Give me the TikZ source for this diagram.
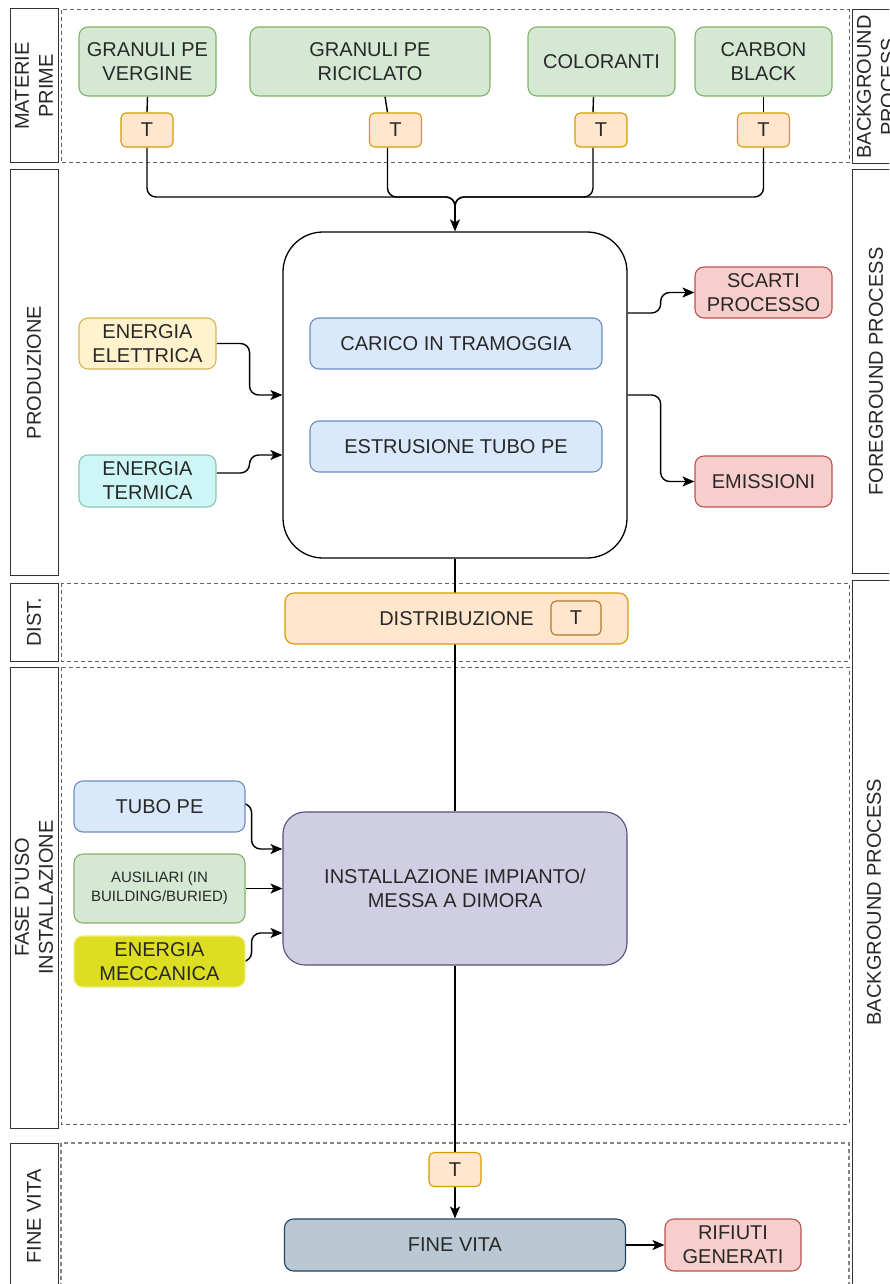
\documentclass[tikz,border=0pt]{standalone}
\usepackage{fontspec}
\setmainfont{Liberation Sans}
\usetikzlibrary{arrows.meta}
\pgfdeclarelayer{bg}
\pgfsetlayers{bg,main}
\definecolor{txt}{RGB}{40,40,40}
\definecolor{gfill}{HTML}{D5E8D4}\definecolor{gdraw}{HTML}{82B366}
\definecolor{ofill}{HTML}{FFE6CC}\definecolor{odraw}{HTML}{D79B00}
\definecolor{yfill}{HTML}{FFF2CC}\definecolor{ydraw}{HTML}{D6B656}
\definecolor{bfill}{HTML}{DAE8FC}\definecolor{bdraw}{HTML}{6C8EBF}
\definecolor{rfill}{HTML}{F8CECC}\definecolor{rdraw}{HTML}{B85450}
\definecolor{pfill}{HTML}{D0CEE2}\definecolor{pdraw}{HTML}{56517E}
\definecolor{sfill}{HTML}{BAC8D3}\definecolor{sdraw}{HTML}{23445D}
\definecolor{cfill}{RGB}{206,246,246}\definecolor{cdraw}{RGB}{140,200,170}
\definecolor{mfill}{RGB}{221,221,34}\definecolor{mdraw}{RGB}{238,238,120}
\definecolor{tdraw}{RGB}{176,122,40}
\definecolor{lanecol}{RGB}{100,100,100}
\newcommand\fsz{\fontsize{20}{24}\selectfont}
\newcommand\fsm{\fontsize{15}{19}\selectfont}
\begin{document}
\begin{tikzpicture}[x=1pt,y=-1pt,
  box/.style={draw, rounded corners=9pt, align=center, inner sep=0pt, line width=1.1pt, text=txt, font=\fsz},
  green/.style={box, fill=gfill, draw=gdraw},
  tbox/.style={box, fill=ofill, draw=odraw, rounded corners=5pt, minimum width=52pt, minimum height=34pt},
  blue/.style={box, fill=bfill, draw=bdraw},
  red/.style={box, fill=rfill, draw=rdraw},
  lbl/.style={draw=black!80, line width=1pt, align=center, inner sep=0pt, font=\fsz, text=txt, rotate=90},
  lbltext/.style={align=center, inner sep=0pt, font=\fsz, text=txt, rotate=90},
  lane/.style={draw=lanecol, dash pattern=on 4pt off 3pt, line width=1pt},
  conn/.style={line width=1.4pt, draw=black, rounded corners=9pt},
  arr/.style={conn, -{Stealth[length=12pt,width=10pt,inset=3pt]}}]
\useasboundingbox (0,0) rectangle (889,1284);
\clip (0,0) rectangle (889,1284);

% left lane labels
\node[lbl, minimum width=154pt, minimum height=48pt] (l1) at (34,86) {MATERIE\\PRIME};
\node[lbl, minimum width=405pt, minimum height=48pt] (l2) at (34,372.5) {PRODUZIONE};
\node[lbl, minimum width=78pt, minimum height=48pt] (l3) at (34,622) {DIST.};
\node[lbl, minimum width=461pt, minimum height=48pt] (l4) at (34,897.5) {FASE D'USO\\INSTALLAZIONE};
\node[lbl, minimum width=147pt, minimum height=48pt] (l5) at (34,1216.5) {FINE VITA};
% right labels
\node[lbl, minimum width=154pt, minimum height=48pt] (r1) at (876,87) {BACKGROUND\\PROCESS};
\node[lbl, minimum width=403pt, minimum height=48pt] (r2) at (876,371.5) {FOREGROUND PROCESS};
\node[lbl, minimum width=715pt, minimum height=48pt] (r3) at (876,937.5) {};
\node[lbltext] (r3t) at (874,902) {BACKGROUND PROCESS};

% raw materials
\node[green, minimum width=137pt, minimum height=69pt] (g1) at (147.5,61.5) {GRANULI PE\\VERGINE};
\node[green, minimum width=240pt, minimum height=69pt] (g2) at (370,61.5) {GRANULI PE\\RICICLATO};
\node[green, minimum width=147pt, minimum height=69pt] (g3) at (601.5,61.5) {COLORANTI};
\node[green, minimum width=137pt, minimum height=69pt] (g4) at (763.5,61.5) {CARBON\\BLACK};
\node[tbox] (t1) at (147,130) {T};
\node[tbox] (t2) at (395.5,130) {T};
\node[tbox] (t3) at (601,130) {T};
\node[tbox] (t4) at (763.5,130) {T};

% production
\node[draw=black, line width=1.3pt, fill=white, rounded corners=40pt, minimum width=344pt, minimum height=326pt, inner sep=0pt] (main) at (455,395) {};
\node[blue, minimum width=292pt, minimum height=51pt] (c1) at (456,343.5) {CARICO IN TRAMOGGIA};
\node[blue, minimum width=292pt, minimum height=51pt] (c2) at (456,446.5) {ESTRUSIONE TUBO PE};
\node[box, fill=yfill, draw=ydraw, minimum width=137pt, minimum height=51pt] (ee) at (147.5,343.5) {ENERGIA\\ELETTRICA};
\node[box, fill=cfill, draw=cdraw, minimum width=137pt, minimum height=52pt] (et) at (147.5,481) {ENERGIA\\TERMICA};
\node[red, minimum width=137pt, minimum height=51pt] (sc) at (763.5,292.5) {SCARTI\\PROCESSO};
\node[red, minimum width=137pt, minimum height=51pt] (em) at (763.5,481.5) {EMISSIONI};

% distribution
\node[box, fill=ofill, draw=odraw, minimum width=343pt, minimum height=51pt] (dist) at (456.5,618.5) {DISTRIBUZIONE};
\node[box, fill=ofill, draw=tdraw, rounded corners=5pt, minimum width=50pt, minimum height=34pt] (dt) at (576,618) {T};

% installation
\node[box, fill=pfill, draw=pdraw, rounded corners=22pt, minimum width=344pt, minimum height=153pt] (inst) at (455,888.5) {INSTALLAZIONE IMPIANTO/\\MESSA A DIMORA};
\node[blue, minimum width=171pt, minimum height=51pt] (tubo) at (159.5,806.5) {TUBO PE};
\node[green, minimum width=171pt, minimum height=69pt, font=\fsm] (aus) at (159.5,888.5) {AUSILIARI (IN\\BUILDING/BURIED)};
\node[box, fill=mfill, draw=mdraw, minimum width=171pt, minimum height=51pt] (mec) at (159.5,961.5) {ENERGIA\\MECCANICA};

% end of life
\node[tbox] (tb) at (455,1169.5) {T};
\node[box, fill=sfill, draw=sdraw, minimum width=341pt, minimum height=52pt] (fv) at (455,1245) {FINE VITA};
\node[red, minimum width=136pt, minimum height=52pt] (rif) at (733,1245) {RIFIUTI\\GENERATI};

\begin{pgfonlayer}{bg}
  \fill[white] (0,0) rectangle (889,1284);
  \draw[lane] (61,10) rectangle (849,163);
  \draw[lane] (61,583) rectangle (849,661);
  \draw[lane] (61,667) rectangle (849,1124);
  \draw[lane, draw=lanecol!80, line width=1.6pt] (61,1143) rectangle (849,1300);
  \coordinate (m) at (455,197);
  \coordinate (mm) at (455,215);
  % raw materials -> production
  \draw[conn] (g1.south) -- (t1.north);
  \draw[conn] ([xshift=15pt]g2.south) -- ([xshift=-8pt]t2.north);
  \draw[conn] ([xshift=-8pt]g3.south) -- ([xshift=-8pt]t3.north);
  \draw[conn] (g4.south) -- (t4.north);
  \draw[conn] (t1.south) |- (m) -- (mm);
  \draw[conn] ([xshift=-8pt]t2.south) |- (m) -- (mm);
  \draw[conn] ([xshift=-8pt]t3.south) |- (m) -- (mm);
  \draw[conn] (t4.south) |- (m) -- (mm);
  \draw[arr, rounded corners=0pt] (mm) -- (main.north);
  % energies
  \draw[arr] (ee.east) -- ++(33,0) |- (main.west);
  \draw[arr] ([yshift=8pt]et.east) -- ++(33,0) |- ([yshift=-60pt]main.west);
  % outputs
  \draw[arr] ([yshift=82pt]main.east) -- ++(33,0) |- (sc.west);
  \draw[arr] (main.east) -- ++(33,0) |- (em.west);
  % main flow
  \draw[conn] (main.south) -- (inst.north);
  \draw[conn] (inst.south) -- (tb.north);
  \draw[arr] (tb.south) -- (fv.north);
  \draw[arr] (fv.east) -- (rif.west);
  % installation inputs
  \draw[arr] ([yshift=3pt]tubo.east) -- ++(6,0) |- ([yshift=39.5pt]inst.west);
  \draw[arr] (aus.east) -- (inst.west);
  \draw[arr] (mec.east) -- ++(6,0) |- ([yshift=-44.5pt]inst.west);
\end{pgfonlayer}
\end{tikzpicture}
\end{document}
